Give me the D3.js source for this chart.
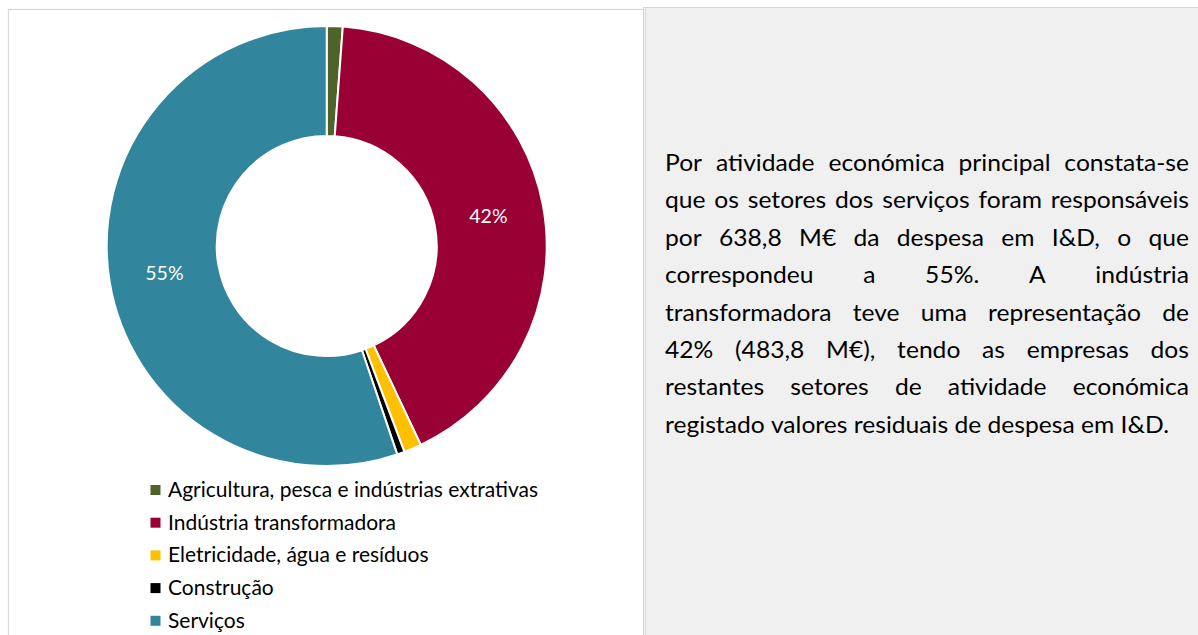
<!DOCTYPE html>
<html lang="pt">
<head>
<meta charset="utf-8">
<title>Despesa em I&amp;D por atividade económica principal</title>
<script src="https://cdn.jsdelivr.net/npm/d3@7"></script>
<style>
  html, body { margin: 0; padding: 0; background: #ffffff; }
  svg { display: block; }
</style>
</head>
<body>
<svg id="chart" width="1198" height="635"></svg>
<script>
// Despesa em I&D por atividade económica principal (M€)
const categories = [
  "Agricultura, pesca e indústrias extrativas",
  "Indústria transformadora",
  "Eletricidade, água e resíduos",
  "Construção",
  "Serviços"
];
const values = [13.5, 483.8, 14.9, 6.4, 638.8];
const colors = ["#4f6228", "#990033", "#ffc000", "#000000", "#31859c"];

// Texto explicativo, linha a linha
const paragraphLines = [
  "Por atividade económica principal constata-se",
  "que os setores dos serviços foram responsáveis",
  "por 638,8 M€ da despesa em I&D, o que",
  "correspondeu a 55%. A indústria",
  "transformadora teve uma representação de",
  "42% (483,8 M€), tendo as empresas dos",
  "restantes setores de atividade económica",
  "registado valores residuais de despesa em I&D."
];

const FONT = "Lato, 'Open Sans', 'DejaVu Sans', sans-serif";
const svg = d3.select("#chart");

// ---- Caixa do gráfico e painel de texto ----
svg.append("rect")
  .attr("x", 8.5).attr("y", 9.5)
  .attr("width", 640).attr("height", 700)
  .attr("fill", "#ffffff")
  .attr("stroke", "#d9d9d9").attr("stroke-width", 1.2);

svg.append("rect")
  .attr("x", 643.5).attr("y", 7.5)
  .attr("width", 600).attr("height", 700)
  .attr("fill", "#f0f0f0")
  .attr("stroke", "#d6d6d6").attr("stroke-width", 1);
svg.append("line")
  .attr("x1", 645.5).attr("x2", 645.5)
  .attr("y1", 8).attr("y2", 635)
  .attr("stroke", "#dedede").attr("stroke-width", 1);

// ---- Donut ----
const cx = 326.7, cy = 246;
const outerR = 220, innerR = 110;

const data = categories.map((c, i) => ({ name: c, value: values[i], color: colors[i] }));
const total = d3.sum(values);

const pie = d3.pie()
  .sort(null)
  .value(d => d.value)
  .startAngle(0)
  .endAngle(2 * Math.PI);

const arc = d3.arc().innerRadius(innerR).outerRadius(outerR);
const labelArc = d3.arc().innerRadius(innerR).outerRadius(outerR - 1);

const g = svg.append("g").attr("transform", `translate(${cx},${cy})`);
const arcs = pie(data);

g.selectAll("path.slice")
  .data(arcs)
  .join("path")
  .attr("class", "slice")
  .attr("d", arc)
  .attr("fill", d => d.data.color)
  .attr("stroke", "#ffffff")
  .attr("stroke-width", 2)
  .attr("stroke-linejoin", "round");

const pctFormat = d3.format(".0%");
g.selectAll("text.pct")
  .data(arcs.filter(d => d.data.value / total >= 0.05))
  .join("text")
  .attr("class", "pct")
  .attr("transform", d => `translate(${labelArc.centroid(d)})`)
  .attr("text-anchor", "middle")
  .attr("dy", "0.36em")
  .attr("font-family", FONT)
  .attr("font-size", 19.5)
  .attr("fill", "#ffffff")
  .text(d => pctFormat(d.data.value / total));

// ---- Legenda ----
const legX = 150.5, legTextX = 168, legBase0 = 497, legStep = 32.7, sq = 10;
const legend = svg.append("g");
const legRows = legend.selectAll("g.row")
  .data(data)
  .join("g")
  .attr("class", "row")
  .attr("transform", (d, i) => `translate(0,${legBase0 + i * legStep})`);

legRows.append("rect")
  .attr("x", legX).attr("y", -7 - sq / 2)
  .attr("width", sq).attr("height", sq)
  .attr("fill", d => d.color);

const legTexts = legRows.append("text")
  .attr("x", legTextX).attr("y", 0)
  .attr("font-family", FONT)
  .attr("font-size", 21)
  .attr("fill", "#000000")
  .text(d => d.name);

// largura do rótulo mais longo fixa a escala horizontal de toda a legenda
const legNodes = legTexts.nodes();
const legK = 370 / legNodes[0].getComputedTextLength();
legNodes.forEach(n => {
  n.setAttribute("textLength", n.getComputedTextLength() * legK);
  n.setAttribute("lengthAdjust", "spacingAndGlyphs");
});

// ---- Texto justificado ----
const parX0 = 665, parX1 = 1189, parBase0 = 171, parStep = 37.4, parSize = 23.5;
const para = svg.append("g")
  .attr("font-family", FONT)
  .attr("font-size", parSize)
  .attr("fill", "#000000");

// medir largura de um espaço
const probe1 = para.append("text").text("x x");
const probe2 = para.append("text").text("xx");
const spaceW = probe1.node().getComputedTextLength() - probe2.node().getComputedTextLength();
probe1.remove(); probe2.remove();

const lineWords = paragraphLines.map((line, li) => {
  const words = line.split(" ");
  return words.map(w => {
    const t = para.append("text").attr("y", parBase0 + li * parStep).text(w);
    return { node: t, w: t.node().getComputedTextLength() };
  });
});

// a última linha (não justificada) fixa a escala horizontal
const last = lineWords[lineWords.length - 1];
const lastNatural = d3.sum(last, d => d.w) + (last.length - 1) * spaceW;
const parK = 504 / lastNatural;

lineWords.forEach((words, li) => {
  const scaled = words.map(d => d.w * parK);
  const isLast = li === lineWords.length - 1;
  const gap = isLast
    ? spaceW * parK
    : (parX1 - parX0 - d3.sum(scaled)) / (words.length - 1);
  let x = parX0;
  words.forEach((d, i) => {
    d.node.attr("x", x)
      .attr("textLength", scaled[i])
      .attr("lengthAdjust", "spacingAndGlyphs");
    x += scaled[i] + gap;
  });
});
</script>
</body>
</html>
